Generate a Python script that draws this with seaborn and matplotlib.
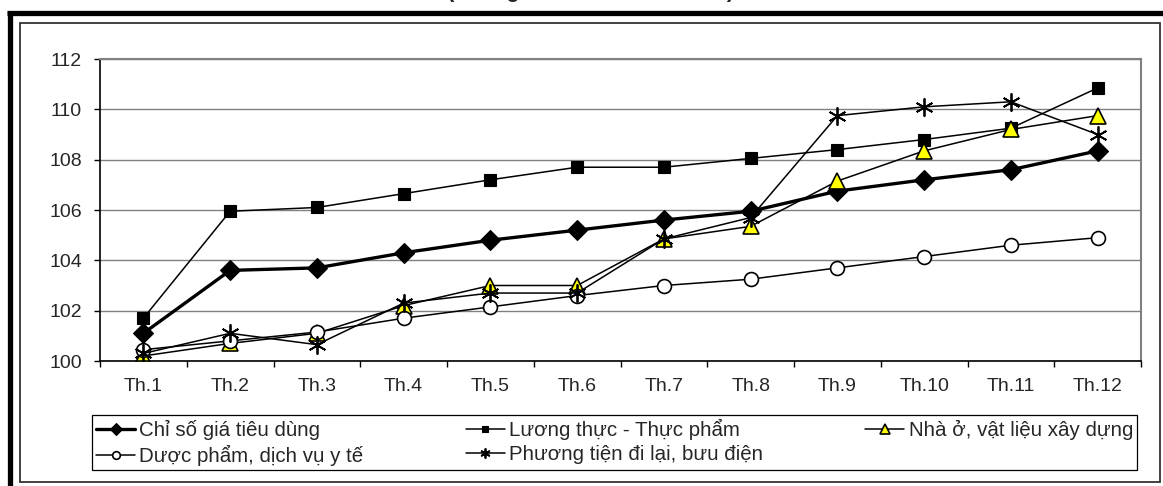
import numpy as np
import matplotlib
matplotlib.use("Agg")
import matplotlib.pyplot as plt
from matplotlib.lines import Line2D
from matplotlib.patches import Rectangle
import seaborn as sns

months = ["Th.1", "Th.2", "Th.3", "Th.4", "Th.5", "Th.6",
          "Th.7", "Th.8", "Th.9", "Th.10", "Th.11", "Th.12"]

cpi = [101.1, 103.6, 103.7, 104.3, 104.8, 105.2, 105.6, 105.95, 106.75, 107.2, 107.6, 108.35]
food = [101.7, 105.95, 106.1, 106.65, 107.2, 107.7, 107.7, 108.05, 108.4, 108.8, 109.25, 110.85]
housing = [100.2, 100.7, 101.1, 102.2, 103.0, 103.0, 104.85, 105.35, 107.15, 108.35, 109.2, 109.75]
pharma = [100.45, 100.8, 101.15, 101.7, 102.15, 102.6, 103.0, 103.25, 103.7, 104.15, 104.6, 104.9]
transport = [100.3, 101.1, 100.65, 102.3, 102.7, 102.7, 104.85, 105.7, 109.75, 110.1, 110.3, 109.0]

names = ["Chỉ số giá tiêu dùng", "Lương thực - Thực phẩm", "Nhà ở, vật liệu xây dựng",
         "Dược phẩm, dịch vụ y tế", "Phương tiện đi lại, bưu điện"]
yticks = [100, 102, 104, 106, 108, 110, 112]

sns.set_style("white")
plt.rcParams['font.family'] = ['Liberation Sans', 'DejaVu Sans']

W, H = 1163, 486
fig = plt.figure(figsize=(W / 100, H / 100), dpi=100)
ax = fig.add_axes([100 / W, 125 / H, 1041 / W, 302 / H])

styles = [
    dict(marker="D", markersize=10.5, markerfacecolor="black", linewidth=2.4, markeredgewidth=0.8),
    dict(marker="s", markersize=9, markerfacecolor="black", linewidth=1.1, markeredgewidth=0.8),
    dict(marker="^", markersize=12, markerfacecolor="#FFFF00", linewidth=1.1, markeredgewidth=1.2),
    dict(marker="o", markersize=10, markerfacecolor="white", linewidth=1.1, markeredgewidth=1.2),
    dict(marker=(6, 2, 0), markersize=13, markerfacecolor="black", linewidth=1.1, markeredgewidth=1.3),
]

handles = []
for vals, name, st in zip([cpi, food, housing, pharma, transport], names, styles):
    sns.lineplot(x=months, y=vals, ax=ax, sort=False, color="black",
                 markeredgecolor="black", **st)
    handles.append(Line2D([], [], color="black", markeredgecolor="black", label=name, **st))

if ax.get_legend() is not None:
    ax.get_legend().remove()

ax.set_xlim(-0.5, 11.5)
ax.set_ylim(100, 112)
ax.set_yticks(yticks)
ax.set_xticks(range(len(months)))
ax.set_xticklabels(months)
ax.set_xticks(np.arange(-0.5, 12, 1), minor=True)
ax.set_xlabel("")
ax.set_ylabel("")
ax.tick_params(axis="x", which="major", length=0, pad=12, labelsize=14)
ax.tick_params(axis="x", which="minor", length=4, width=1, direction="out", color="black", bottom=True)
ax.tick_params(axis="y", length=4, width=1, direction="out", color="black", pad=9, labelsize=14, left=True)
ax.yaxis.grid(True, color="#808080", linewidth=1)
ax.set_axisbelow(True)
for s in ["top", "right"]:
    ax.spines[s].set_color("#808080")
    ax.spines[s].set_linewidth(1.5)
for s in ["left", "bottom"]:
    ax.spines[s].set_color("black")
    ax.spines[s].set_linewidth(1.2)

order = [0, 3, 1, 4, 2]
leg = fig.legend([handles[i] for i in order], [names[i] for i in order], ncol=3,
                 loc="lower left", bbox_to_anchor=(92 / W, 16 / H, 1045 / W, 52 / H),
                 mode="expand", frameon=True, fancybox=False, edgecolor="black",
                 framealpha=1, handlelength=1.9, handletextpad=0.2, markerscale=0.55,
                 fontsize=14.8, borderaxespad=0, labelspacing=0.22, borderpad=0.2)
leg.get_frame().set_linewidth(0.9)

# frames around the chart
fig.add_artist(Rectangle((20 / W, 4 / H), 1140 / W, 459 / H, transform=fig.transFigure,
                         fill=False, edgecolor="#333333", linewidth=1.3))
fig.add_artist(Line2D([7 / W, 1.0], [472.5 / H, 472.5 / H], transform=fig.transFigure,
                      color="black", linewidth=3.8, solid_capstyle="butt"))
fig.add_artist(Line2D([9.5 / W, 9.5 / W], [0, 475 / H], transform=fig.transFigure,
                      color="black", linewidth=3.8, solid_capstyle="butt"))

# title, mostly cut off by the top edge as in the original scan
fig.text(591 / W, 489 / H, "(Tháng 12 năm trước = 100)", ha="center", va="baseline",
         fontsize=15.7, fontweight="bold")

fig.savefig("out.png", dpi=100)
